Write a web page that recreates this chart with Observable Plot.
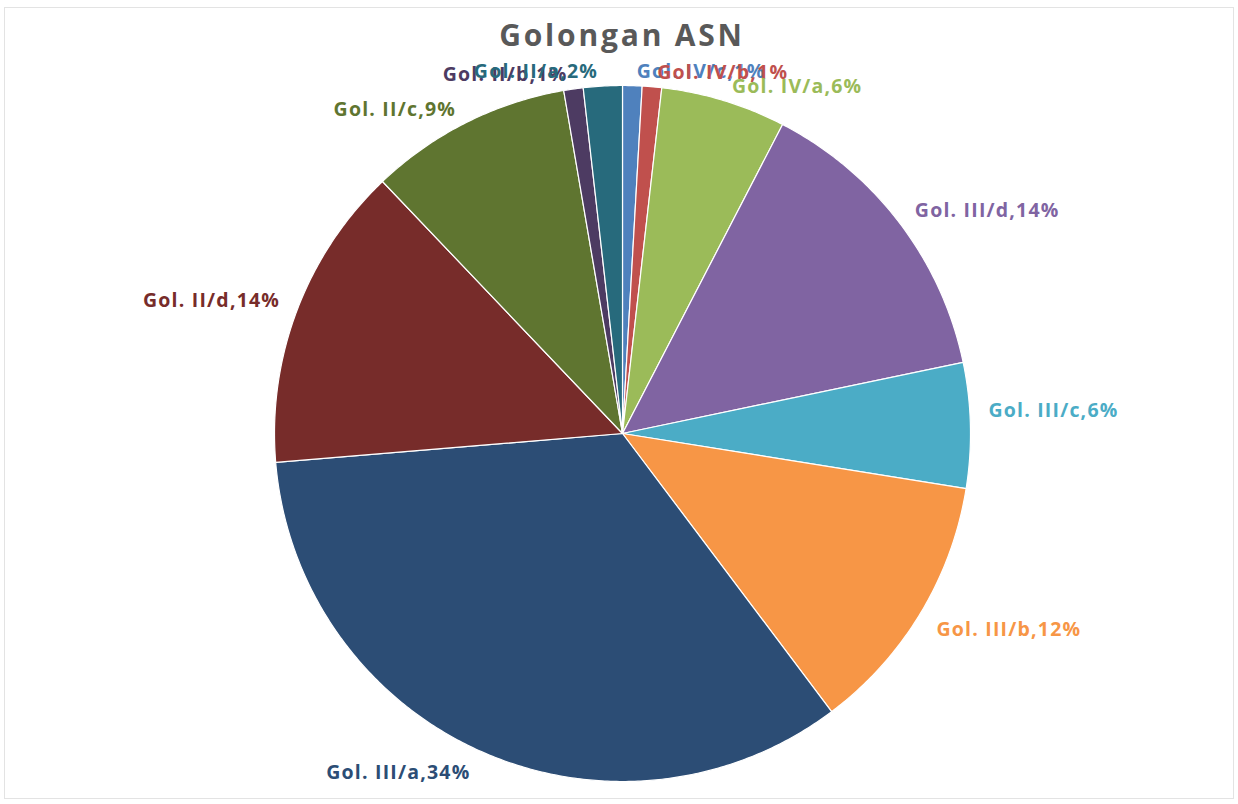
<!DOCTYPE html>
<html>
<head>
<meta charset="utf-8">
<script src="https://cdn.jsdelivr.net/npm/d3@7"></script>
<script src="https://cdn.jsdelivr.net/npm/@observablehq/plot@0.6"></script>
<style>
  html, body { margin: 0; padding: 0; background: #fff; }
  #wrap { position: relative; width: 1238px; height: 804px; overflow: hidden; }
  #frame { position: absolute; left: 4px; top: 7px; width: 1230px; height: 792px; border: 1px solid #e3e3e3; box-sizing: border-box; pointer-events: none; }
  #title { height: 58px; line-height: 70px; text-align: center; font-family: "Open Sans", sans-serif; font-weight: 700; font-size: 30px; letter-spacing: 2.8px; color: #595959; padding-left: 6px; }
  #chart svg { display: block; }
  #chart svg text { letter-spacing: 1.2px; }
</style>
</head>
<body>
<div id="wrap">
  <div id="frame"></div>
  <div id="title">Golongan ASN</div>
  <div id="chart"></div>
</div>
<script>
// Categories (clockwise from 12 o'clock)
const names = ["Gol. IV/c", "Gol. IV/b", "Gol. IV/a", "Gol. III/d", "Gol. III/c", "Gol. III/b",
               "Gol. III/a", "Gol. II/d", "Gol. II/c", "Gol. II/b", "Gol. II/a"];
// Share of ASN per golongan (percent)
const values = [0.9, 0.9, 5.8, 14.1, 5.8, 12.2, 33.9, 14.2, 9.4, 0.9, 1.8];
// Slice colours
const colors = ["#4F81BD", "#C0504D", "#9BBB59", "#8064A2", "#4BACC6", "#F79646",
                "#2C4D75", "#772C2A", "#5F7530", "#4D3B62", "#276A7C"];

const W = 1238, H = 746;
const cx = 622, cy = 375, R = 348;

const total = d3.sum(values);
const arcs = d3.pie().sort(null).value(d => d)(values);

// Build slice outlines from the pie angles
const pts = [];
arcs.forEach((a, i) => {
  const name = names[i];
  pts.push({name, x: 0, y: 0});
  const n = Math.max(4, Math.ceil((a.endAngle - a.startAngle) / (Math.PI / 360)));
  for (let k = 0; k <= n; k++) {
    const t = a.startAngle + (a.endAngle - a.startAngle) * k / n;
    pts.push({name, x: R * Math.sin(t), y: -R * Math.cos(t)});
  }
});

// Labels outside each slice
const labels = arcs.map((a, i) => {
  const m = (a.startAngle + a.endAngle) / 2;
  const rl = R + 14;
  const c = Math.cos(m);
  let off = 0;
  if (c < -0.2) off = 9;
  else if (Math.abs(c) <= 0.2) off = -14;
  else if (c < 0.75) off = -4;
  return {
    name: names[i],
    text: names[i] + "," + Math.round(values[i] / total * 100) + "%",
    x: rl * Math.sin(m),
    y: -rl * c + off,
    right: Math.sin(m) >= 0
  };
});

const font = "'Open Sans', sans-serif";
const chart = Plot.plot({
  width: W,
  height: H,
  margin: 0,
  x: {domain: [-cx, W - cx], range: [0, W], axis: null},
  y: {domain: [-cy, H - cy], range: [0, H], axis: null},
  color: {domain: names, range: colors},
  style: {background: "transparent"},
  marks: [
    Plot.line(pts, {x: "x", y: "y", z: "name", fill: "name", stroke: "white", strokeWidth: 1.2, curve: "linear-closed"}),
    Plot.text(labels.filter(d => d.right), {x: "x", y: "y", text: "text", fill: "name", textAnchor: "start", dx: 4, fontSize: 19.5, fontWeight: 700, fontFamily: font}),
    Plot.text(labels.filter(d => !d.right), {x: "x", y: "y", text: "text", fill: "name", textAnchor: "end", dx: -4, fontSize: 19.5, fontWeight: 700, fontFamily: font})
  ]
});
document.getElementById("chart").appendChild(chart);
</script>
</body>
</html>
